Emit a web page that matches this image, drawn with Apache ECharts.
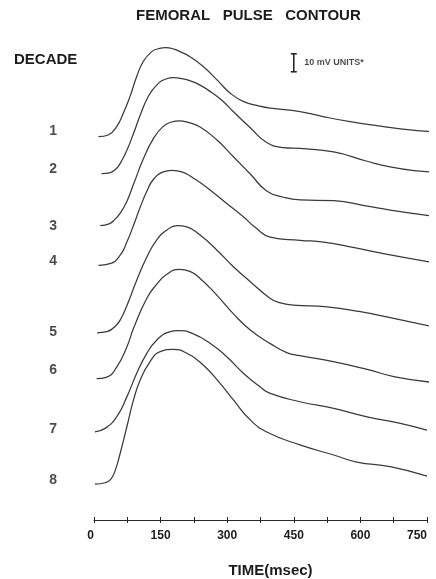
<!DOCTYPE html>
<html>
<head>
<meta charset="utf-8">
<script src="https://cdn.jsdelivr.net/npm/echarts@6/dist/echarts.min.js"></script>
<style>
  html, body { margin: 0; padding: 0; background: #fff; }
  #chart { width: 436px; height: 579px; }
</style>
</head>
<body>
<div id="chart"></div>
<script>
// Femoral pulse contours by decade of age: [time (msec), amplitude above the trace's own baseline (mV units)]
const pulse1 = [[10,0],[32,0.9],[51,5.6],[66,13],[81,22.2],[96,33.3],[111,41.7],[130,47.2],[145,48.8],[162,49.4],[180,48.6],[194,47.2],[216,44.4],[246,38.9],[277,31.5],[307,24.1],[337,19.4],[370,17.1],[397,15.8],[464,13.9],[516,11.1],[577,8.3],[652,5.6],[712,3.7],[757,2.8]];
const pulse2 = [[17,0],[35,0.4],[48,2.2],[59,5.6],[74,12.9],[89,22.2],[104,32.4],[122,42.6],[141,49.1],[162,52.5],[180,53.3],[200,52.6],[220,51.2],[239,49.1],[264,45.2],[288,40.7],[313,34.6],[352,25.4],[389,17.2],[427,14.4],[464,13.9],[540,12],[615,6.8],[667,3.7],[728,1.4],[762,0.9]];
const pulse3 = [[14,0],[34,1],[47,3.5],[59,7],[74,13.5],[89,23],[111,37],[134,48.5],[156,55.2],[175,57.6],[192,58.3],[212,57.4],[239,54.8],[277,47.6],[314,38.3],[352,28.7],[389,19.3],[427,15.8],[464,14.3],[540,13.9],[615,10.9],[667,8.7],[762,5.4]];
const pulse4 = [[10,0],[36,0.9],[59,5.6],[74,12.9],[89,22.2],[104,32.2],[119,41.1],[134,47.8],[156,51.9],[176,52.8],[198,51.9],[228,47.8],[262,41.7],[299,34.3],[337,26.8],[363,21.1],[397,15.7],[464,13.9],[517,12.9],[577,10.2],[652,6.5],[757,1.8]];
const pulse5 = [[7,0],[29,0.6],[51,4.5],[62,8.5],[74,15],[96,29],[119,42.1],[141,51.5],[164,57.1],[187,59.6],[209,58.9],[239,54.3],[277,45.9],[314,36.7],[352,28.4],[397,19.1],[420,16.6],[449,15.4],[525,14.4],[600,11.7],[675,8],[757,3.7]];
const pulse6 = [[6,0],[29,0.9],[51,6.4],[74,17.6],[89,28],[119,44.7],[141,52.4],[164,58],[192,60.7],[216,59.6],[239,55.7],[273,47.4],[313,36.3],[352,27],[397,19.5],[434,14.5],[464,12.8],[539,9.5],[615,5.2],[675,1.2],[757,-1.9]];
const pulse7 = [[2,0],[25,1.9],[51,8.3],[74,19.4],[96,32.4],[119,43.6],[141,50.9],[168,55.4],[190,56.2],[220,54.8],[262,49.1],[299,41.7],[337,32.4],[374,25],[397,21.3],[464,16.7],[540,13],[615,8.3],[690,4.7],[750,0.9]];
const pulse8 = [[2,0],[25,0.7],[37,2.4],[47,7],[59,17.1],[74,31.8],[89,46.7],[104,57.8],[126,67.9],[149,73.5],[179,74.8],[209,72.6],[246,66.1],[284,55.9],[314,46.7],[352,35.6],[389,28.9],[464,21.7],[540,16.1],[592,12.2],[667,9.6],[750,4.4]];

// Vertical displacement of each decade's trace (mV units) and where its number sits
const decadeNames = ['1', '2', '3', '4', '5', '6', '7', '8'];
const decadeOffsets = [213, 192.5, 163.5, 141.5, 104, 78.5, 49, 20];
const decadeLabelLevels = [216, 195, 163, 144, 104.5, 83.5, 50.5, 22];
const decadeLabelTime = -92;

// Calibration bar: 10 mV units
const scaleBarTime = 450;
const scaleBarLevels = [249, 259];

// Time axis
const timeTickStep = 75;
const timeLabelValues = [0, 150, 300, 450, 600, 750];

const pulses = [pulse1, pulse2, pulse3, pulse4, pulse5, pulse6, pulse7, pulse8];
const ink = '#1c1c1c';
const trace = '#3a3a3a';
const font = '"Liberation Sans", Arial, Helvetica, sans-serif';

const traceSeries = pulses.map((p, i) => ({
  type: 'line',
  name: 'Decade ' + decadeNames[i],
  data: p.map(([t, v]) => [t, v + decadeOffsets[i]]),
  smooth: 0.5,
  showSymbol: false,
  clip: false,
  silent: true,
  lineStyle: { color: trace, width: 1.25 },
  z: 3
}));

const chart = echarts.init(document.getElementById('chart'), null, { renderer: 'canvas' });
chart.setOption({
  animation: false,
  backgroundColor: '#ffffff',
  title: [
    {
      text: 'FEMORAL   PULSE   CONTOUR',
      left: 136, top: 8, padding: 0,
      textStyle: { fontFamily: font, fontWeight: 'bold', fontSize: 15, color: ink }
    },
    {
      text: 'DECADE',
      left: 14, top: 52, padding: 0,
      textStyle: { fontFamily: font, fontWeight: 'bold', fontSize: 15, color: ink }
    }
  ],
  grid: { left: 94, right: 9, top: 34, bottom: 59, outerBoundsMode: 'none', containLabel: false },
  xAxis: [
    {
      type: 'value', min: 0, max: 750, interval: timeTickStep,
      name: 'TIME(msec)', nameLocation: 'middle', nameGap: 43,
      nameTextStyle: { fontFamily: font, fontWeight: 'bold', fontSize: 15, color: ink, padding: [0, 0, 0, 20] },
      axisLine: { lineStyle: { color: '#2a2a2a', width: 1 } },
      axisTick: { show: true, inside: false, length: 3, lineStyle: { color: '#2a2a2a', width: 1 } },
      axisLabel: {
        margin: 10, fontFamily: font, fontWeight: 'bold', fontSize: 12, color: ink,
        alignMinLabel: 'right', alignMaxLabel: 'right',
        formatter: v => (timeLabelValues.includes(v) ? String(v) : '')
      },
      splitLine: { show: false }
    },
    {
      type: 'value', min: 0, max: 750, interval: timeTickStep, position: 'bottom',
      axisLine: { show: false },
      axisTick: { show: true, inside: true, length: 3, lineStyle: { color: '#2a2a2a', width: 1 } },
      axisLabel: { show: false },
      splitLine: { show: false }
    }
  ],
  yAxis: { type: 'value', min: 0, max: 270, show: false },
  series: [
    ...traceSeries,
    {
      type: 'scatter',
      name: 'decade numbers',
      data: decadeNames.map((n, i) => ({ value: [decadeLabelTime, decadeLabelLevels[i]], name: n })),
      symbolSize: 1,
      clip: false,
      silent: true,
      itemStyle: { color: 'rgba(0,0,0,0)' },
      label: {
        show: true, position: 'inside', formatter: p => p.name,
        fontFamily: font, fontWeight: 'bold', fontSize: 14, color: ink
      }
    },
    {
      type: 'line',
      name: 'calibration',
      data: scaleBarLevels.map(v => [scaleBarTime, v]),
      symbol: 'rect',
      symbolSize: [6, 1.5],
      showSymbol: true,
      silent: true,
      lineStyle: { color: ink, width: 1.5 },
      itemStyle: { color: ink }
    },
    {
      type: 'scatter',
      name: 'calibration label',
      data: [[scaleBarTime, (scaleBarLevels[0] + scaleBarLevels[1]) / 2]],
      symbolSize: 1,
      silent: true,
      itemStyle: { color: 'rgba(0,0,0,0)' },
      label: {
        show: true, position: 'right', distance: 10, formatter: '10 mV UNITS*',
        fontFamily: font, fontWeight: 'bold', fontSize: 9, color: ink
      }
    }
  ]
});
</script>
</body>
</html>
